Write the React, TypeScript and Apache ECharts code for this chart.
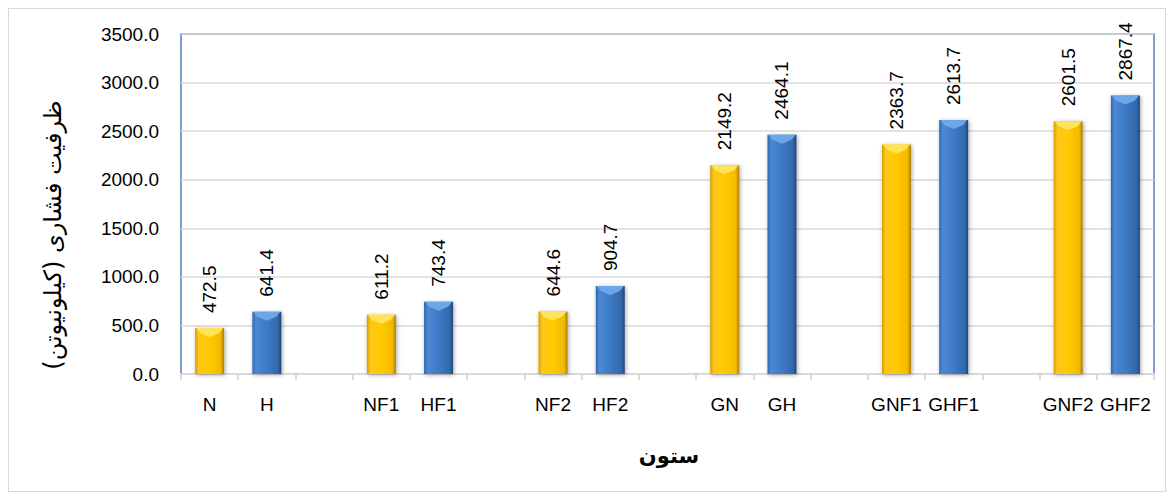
import React, { useEffect, useRef } from "react";
import * as echarts from "echarts";

const categories = ["N", "H", "", "NF1", "HF1", "", "NF2", "HF2", "", "GN", "GH", "", "GNF1", "GHF1", "", "GNF2", "GHF2"];
const yellowValues = [472.5, null, null, 611.2, null, null, 644.6, null, null, 2149.2, null, null, 2363.7, null, null, 2601.5, null];
const blueValues = [null, 641.4, null, null, 743.4, null, null, 904.7, null, null, 2464.1, null, null, 2613.7, null, null, 2867.4];
const yTicks = { min: 0, max: 3500, interval: 500 };
const yAxisTitle = "ظرفیت فشاری (کیلونیوتن)";
const xAxisTitle = "ستون";

const FONT = "'Liberation Sans', Arial, sans-serif";
const BAR_W = 29;

export default function App() {
  const ref = useRef<HTMLDivElement>(null);
  useEffect(() => {
    if (!ref.current) return;
    const chart = echarts.init(ref.current, null, { renderer: "svg" });
    const yellow = new echarts.graphic.LinearGradient(0, 0, 1, 0, [
      { offset: 0, color: "#D29E00" },
      { offset: 0.12, color: "#FFC61A" },
      { offset: 0.5, color: "#FFCA00" },
      { offset: 0.88, color: "#F4B900" },
      { offset: 1, color: "#A77E00" },
    ]);
    const blue = new echarts.graphic.LinearGradient(0, 0, 1, 0, [
      { offset: 0, color: "#2D67AC" },
      { offset: 0.12, color: "#4A89D6" },
      { offset: 0.5, color: "#3E7AC4" },
      { offset: 0.88, color: "#3368AC" },
      { offset: 1, color: "#1E4678" },
    ]);
    const label = {
      show: true,
      position: "top",
      rotate: 90,
      align: "left",
      verticalAlign: "middle",
      distance: 15,
      fontSize: 19,
      fontFamily: FONT,
      color: "#000",
      formatter: (p: any) => Number(p.value).toFixed(1),
    };
    const bevel = (values: (number | null)[], fill: string) => ({
      type: "custom",
      silent: true,
      z: 3,
      data: values.map((v, i) => (v == null ? [i, null] : [i, v])),
      renderItem: (params: any, api: any) => {
        const v = api.value(1);
        if (v == null || isNaN(v)) return null;
        const p = api.coord([api.value(0), v]);
        const h = BAR_W / 2;
        return {
          type: "polygon",
          shape: {
            points: [
              [p[0] - h + 1, p[1]],
              [p[0] + h - 1, p[1]],
              [p[0] + h - 5, p[1] + 5],
              [p[0], p[1] + 9],
              [p[0] - h + 5, p[1] + 5],
            ],
          },
          style: { fill },
        };
      },
    });
    chart.setOption({
      animation: false,
      grid: {
        left: 172,
        top: 25,
        right: 11,
        bottom: 117,
        show: true,
        borderColor: "#4F81BD",
        borderWidth: 1.5,
        backgroundColor: "transparent",
      },
      xAxis: {
        type: "category",
        data: categories,
        boundaryGap: true,
        axisLine: { show: true, lineStyle: { color: "#D9D9D9", width: 2 } },
        axisTick: { show: true, alignWithLabel: false, interval: 0, length: 6, lineStyle: { color: "#D9D9D9", width: 2 } },
        axisLabel: { interval: 0, margin: 21, fontSize: 19, fontFamily: FONT, color: "#000" },
        splitLine: { show: false },
      },
      yAxis: {
        type: "value",
        min: yTicks.min,
        max: yTicks.max,
        interval: yTicks.interval,
        axisLine: { show: false },
        axisTick: { show: false },
        axisLabel: { margin: 22, fontSize: 19, fontFamily: FONT, color: "#000", formatter: (v: number) => v.toFixed(1) },
        splitLine: { show: true, lineStyle: { color: "#D9D9D9", width: 1.5 } },
      },
      graphic: [
        {
          type: "text",
          x: 44,
          y: 226,
          rotation: Math.PI / 2,
          style: {
            text: yAxisTitle,
            fontSize: 24,
            fontFamily: "'DejaVu Sans', sans-serif",
            fill: "#000",
            align: "center",
            verticalAlign: "middle",
          },
        },
        {
          type: "text",
          x: 660,
          y: 447,
          style: {
            text: xAxisTitle,
            fontSize: 21,
            fontWeight: "bold",
            fontFamily: "'DejaVu Sans', sans-serif",
            fill: "#000",
            align: "center",
            verticalAlign: "middle",
          },
        },
      ],
      series: [
        {
          type: "bar",
          data: yellowValues,
          barWidth: BAR_W,
          barGap: "-100%",
          itemStyle: { color: yellow, shadowBlur: 4, shadowColor: "rgba(0,0,0,0.35)", shadowOffsetX: 1, shadowOffsetY: 1 },
          label,
        },
        {
          type: "bar",
          data: blueValues,
          barWidth: BAR_W,
          barGap: "-100%",
          itemStyle: { color: blue, shadowBlur: 4, shadowColor: "rgba(0,0,0,0.35)", shadowOffsetX: 1, shadowOffsetY: 1 },
          label,
        },
        bevel(yellowValues, "#FFE45A"),
        bevel(blueValues, "#6FA6E8"),
      ],
    });
    return () => chart.dispose();
  }, []);
  return (
    <div
      ref={ref}
      style={{ width: 1158, height: 484, border: "1px solid #D9D9D9", boxSizing: "border-box", background: "#fff" }}
    />
  );
}
